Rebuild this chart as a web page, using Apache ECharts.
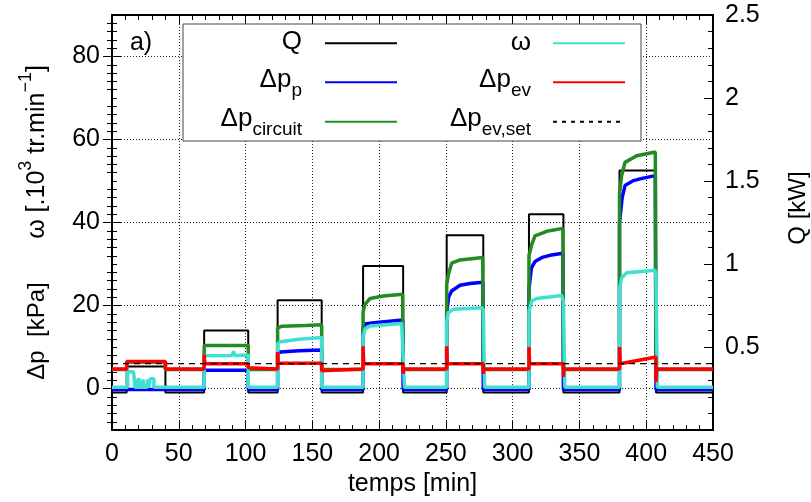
<!DOCTYPE html>
<html><head><meta charset="utf-8">
<script src="https://cdn.jsdelivr.net/npm/echarts@6/dist/echarts.min.js"></script>
<style>html,body{margin:0;padding:0;background:#fff}#c{width:811px;height:502px}</style>
</head><body><div id="c"></div>
<script>
// ---- tick labels ----
const yTicks = [0, 20, 40, 60, 80];          // Δp / ω axis (left)
// ---- data (time in min) ----
// Q [kW] step levels: value holds from t until next t
const Q = [[0,0.227],[11,0.383],[40,0.227],[69,0.600],[102,0.227],[124,0.782],[157,0.227],[188,0.989],[218,0.227],[250.6,1.174],[278,0.227],[312.2,1.300],[338,0.227],[380,1.563],[407.3,0.227],[450,0.227]];
// Δp_p [kPa]
const dpP = [[0,-0.2],[69,-0.2],[69,4.4],[102,4.4],[102,-0.2],[124,-0.2],[124,8.3],[126,8.8],[140,9.1],[157,9.3],[157,-0.2],[188,-0.2],[188,14.8],[190,15.6],[200,16.0],[217.6,16.5],[218,-0.2],[250.6,-0.2],[250.6,18],[252,22],[254.3,23.5],[260.6,24.9],[268,25.3],[277.6,25.6],[278,-0.2],[312.2,-0.2],[312.2,24],[314,29],[316.7,30.6],[322,31.6],[328,32.1],[337.6,32.6],[338,-0.2],[380,-0.2],[380,40],[382,46],[384.1,48.9],[390.3,50.1],[397.8,50.7],[406.8,51.3],[407.3,-0.2],[450,-0.2]];
// Δp_circuit [kPa]
const dpC = [[0,4.6],[11,4.6],[11,6.4],[40,6.4],[40,4.6],[69,4.6],[69,10.4],[102,10.4],[102,4.6],[124,4.6],[124,14.6],[127,15.0],[145,15.2],[157,15.4],[157,4.6],[188,4.6],[188,18.5],[189.4,20.3],[193.2,21.7],[203.1,22.3],[217.6,22.7],[218,4.6],[250.6,4.6],[250.6,25],[251.8,27.4],[254.3,30.2],[260.6,31.0],[277.6,31.6],[278,4.6],[312.2,4.6],[312.2,32],[314.2,34.6],[316.7,36.8],[325.5,37.9],[337.6,38.6],[338,4.6],[380,4.6],[380,47],[381.6,51.3],[384.1,54.5],[392.9,56.1],[406.8,57.0],[407.3,4.6],[450,4.6]];
// ω [10^3 tr/min]
const omega = [[0,0.3],[11.7,0.3],[11.7,4.1],[16,4.0],[16.5,2.8],[17.2,2.8],[17.2,0.3],[19,0.3],[19,2.2],[20.5,2.2],[20.5,0.3],[23,0.3],[23,2.2],[24.2,2.2],[24.2,0.3],[26.5,0.3],[26.5,2.2],[27.7,2.2],[27.7,0.3],[28.5,0.3],[28.5,2.4],[31.4,2.4],[31.4,0.3],[69,0.3],[69,7.9],[90,8.0],[91,9.0],[92,8.0],[102,8.1],[102,0.3],[124,0.3],[124,10.8],[126,11.3],[140,11.9],[157,12.3],[157,0.3],[188,0.3],[188,12.5],[189.4,14.3],[193.2,15.1],[216.9,15.7],[218,15.5],[219,0.3],[250.6,0.3],[250.6,16],[251.8,18.3],[255.6,19.1],[276.8,19.5],[278,19],[279,0.3],[312.2,0.3],[312.2,18.5],[314.2,21.1],[318,21.7],[336.7,22.4],[338,21],[339,0.3],[380,0.3],[380,24],[381.6,26.7],[385.4,27.9],[406.6,28.5],[407.3,27],[408.3,0.3],[450,0.3]];
// Δp_ev [kPa]
const dpEv = [[0,4.7],[11,4.7],[11,6.5],[40,6.5],[40,4.7],[69,4.7],[69,8.2],[69.5,6.0],[102,6.0],[102,5.0],[102.5,4.7],[124,4.7],[124,8.8],[124.5,6.1],[157,6.1],[157,4.3],[157.5,4.7],[188,4.7],[188,10.2],[188.5,6.0],[218,6.0],[218,3.6],[218.5,4.7],[250.6,4.7],[250.6,10.2],[251.1,6.0],[278,6.0],[278,3.6],[278.5,4.7],[312.2,4.7],[312.2,10.0],[312.7,6.0],[338,6.0],[338,2.8],[338.5,4.7],[380,4.7],[380,10.0],[380.5,6.0],[407.3,7.6],[407.3,1.6],[407.8,4.7],[450,4.7]];
// Δp_ev,set [kPa]
const dpEvSet = [[0,6.0],[450,6.0]];

const seriesNames = ['Q','Δp_p','Δp_circuit','ω','Δp_ev','Δp_ev,set'];

const fam = '"Liberation Sans", Arial, Helvetica, sans-serif';
const FS = 25;
const chart = echarts.init(document.getElementById('c'), null, {renderer:'canvas'});
const black = '#000';
const dotted = {show:true, lineStyle:{color:'#222', width:1, type:[1,2]}};
const axLine = {show:true, onZero:false, lineStyle:{color:black, width:2}};
const tick = {show:true, inside:true, length:9, lineStyle:{color:black, width:1}};
const shortTick = {show:true, inside:true, length:5, lineStyle:{color:black, width:1}};
const minor5 = {show:true, splitNumber:5, length:5, lineStyle:{color:black, width:1}};
const lab = {fontSize:FS, color:black, fontFamily:fam};

// legend: main middle, subscript at bottom of a tall line
const richM = {fontSize:26, fontFamily:fam, lineHeight:26, verticalAlign:'middle', fill:black, color:black};
const richS = {fontSize:19, fontFamily:fam, lineHeight:41, verticalAlign:'bottom', fill:black, color:black};
// axis title: main middle, superscript at top of a tall line
const richAM = {fontSize:25, fontFamily:fam, lineHeight:25, verticalAlign:'middle', fill:black, color:black};
const richUpS = {fontSize:18, fontFamily:fam, lineHeight:39, verticalAlign:'top', fill:black, color:black};

function legText(x, y, txt) {
  return {type:'text', x:x, y:y, z:101, style:{text:txt, rich:{m:richM, s:richS}, font:'26px '+fam, fill:black, align:'right', verticalAlign:'middle'}};
}
function legLine(x1, x2, y, color, dash) {
  return {type:'line', z:101, shape:{x1:x1, y1:y, x2:x2, y2:y}, style:{stroke:color, lineWidth:2, lineDash:dash||null}};
}
const leftLabel = v => (yTicks.indexOf(v) >= 0 ? String(v) : '');

const option = {
  animation:false,
  backgroundColor:'#fff',
  textStyle:{fontFamily:fam},
  grid:{left:112, right:98, top:15, bottom:69, containLabel:false},
  xAxis:[
    {type:'value', min:0, max:450, interval:50, position:'bottom', axisLine:axLine, axisTick:tick,
     minorTick:minor5, axisLabel:Object.assign({margin:12}, lab), splitLine:dotted,
     name:'temps [min]', nameLocation:'middle', nameGap:40, nameTextStyle:{fontSize:25, color:black, fontFamily:fam}},
    {type:'value', min:0, max:450, interval:50, position:'top', axisLine:axLine, axisTick:tick,
     minorTick:minor5, axisLabel:{show:false}, splitLine:{show:false}}
  ],
  yAxis:[
    // 0: left data axis, long ticks + grid at yTicks
    {type:'value', min:-10, max:90, interval:10, position:'left', axisLine:axLine,
     axisTick:Object.assign({customValues:yTicks}, tick), minorTick:minor5,
     axisLabel:Object.assign({margin:12, formatter:leftLabel}, lab), splitLine:dotted},
    // 1: right Q axis
    {type:'value', min:0, max:2.5, interval:0.5, position:'right', axisLine:axLine, axisTick:tick,
     minorTick:minor5, axisLabel:Object.assign({margin:12, showMinLabel:false}, lab), splitLine:{show:false}},
    // 2: right mirror of left axis
    {type:'value', min:-10, max:90, interval:10, position:'right', axisLine:{show:false},
     axisTick:Object.assign({customValues:yTicks}, tick), minorTick:minor5,
     axisLabel:{show:false}, splitLine:{show:false}},
    // 3: left short ticks at every 10
    {type:'value', min:-10, max:90, interval:10, position:'left', axisLine:{show:false},
     axisTick:shortTick, axisLabel:{show:false}, splitLine:{show:false}}
  ],
  series:[
    {name:seriesNames[0], type:'line', xAxisIndex:0, yAxisIndex:1, data:Q, step:'end', showSymbol:false, lineStyle:{color:'#000', width:2}},
    {name:seriesNames[1], type:'line', xAxisIndex:0, yAxisIndex:0, data:dpP, showSymbol:false, lineStyle:{color:'#0000ff', width:3.5}},
    {name:seriesNames[2], type:'line', xAxisIndex:0, yAxisIndex:0, data:dpC, showSymbol:false, lineStyle:{color:'#228b22', width:3.5}},
    {name:seriesNames[3], type:'line', xAxisIndex:0, yAxisIndex:0, data:omega, showSymbol:false, lineStyle:{color:'#40e0d0', width:3.5}},
    {name:seriesNames[4], type:'line', xAxisIndex:0, yAxisIndex:0, data:dpEv, showSymbol:false, lineStyle:{color:'#ff0000', width:3.5}},
    {name:seriesNames[5], type:'line', xAxisIndex:0, yAxisIndex:0, data:dpEvSet, showSymbol:false, lineStyle:{color:'#000', width:1.2, type:[6,5]}}
  ],
  graphic:[
    {type:'rect', z:100, shape:{x:183, y:24, width:458, height:117}, style:{fill:'#fff', stroke:'#444', lineWidth:1}},
    legText(302, 42, '{m|Q}'),
    legText(302, 80, '{m|Δp}{s|p}'),
    legText(302, 119, '{m|Δp}{s|circuit}'),
    legText(531, 43, '{m|ω}'),
    legText(531, 80, '{m|Δp}{s|ev}'),
    legText(531, 119, '{m|Δp}{s|ev,set}'),
    legLine(325, 397, 43.3, '#000'),
    legLine(325, 397, 82.3, '#0000ff'),
    legLine(325, 397, 121.7, '#228b22'),
    legLine(553, 625, 43.3, '#40e0d0'),
    legLine(553, 625, 82.3, '#ff0000'),
    legLine(553, 625, 121.7, '#000', [4,5]),
    {type:'text', x:141, y:43, z:101, style:{text:'a)', font:FS+'px '+fam, fill:black, align:'center', verticalAlign:'middle'}},
    {type:'text', x:37, y:331, rotation:Math.PI/2, z:101, style:{text:'Δp  [kPa]', font:'24px '+fam, fill:black, align:'center', verticalAlign:'middle'}},
    {type:'text', x:37, y:152, rotation:Math.PI/2, z:101, style:{text:'{m|ω [.10}{s|3}{m| tr.min}{s|−1}{m|]}', rich:{m:richAM, s:richUpS}, font:'25px '+fam, fill:black, align:'center', verticalAlign:'middle'}},
    {type:'text', x:798, y:208, rotation:Math.PI/2, z:101, style:{text:'Q [kW]', font:'24px '+fam, fill:black, align:'center', verticalAlign:'middle'}}
  ]
};
chart.setOption(option);
</script></body></html>
